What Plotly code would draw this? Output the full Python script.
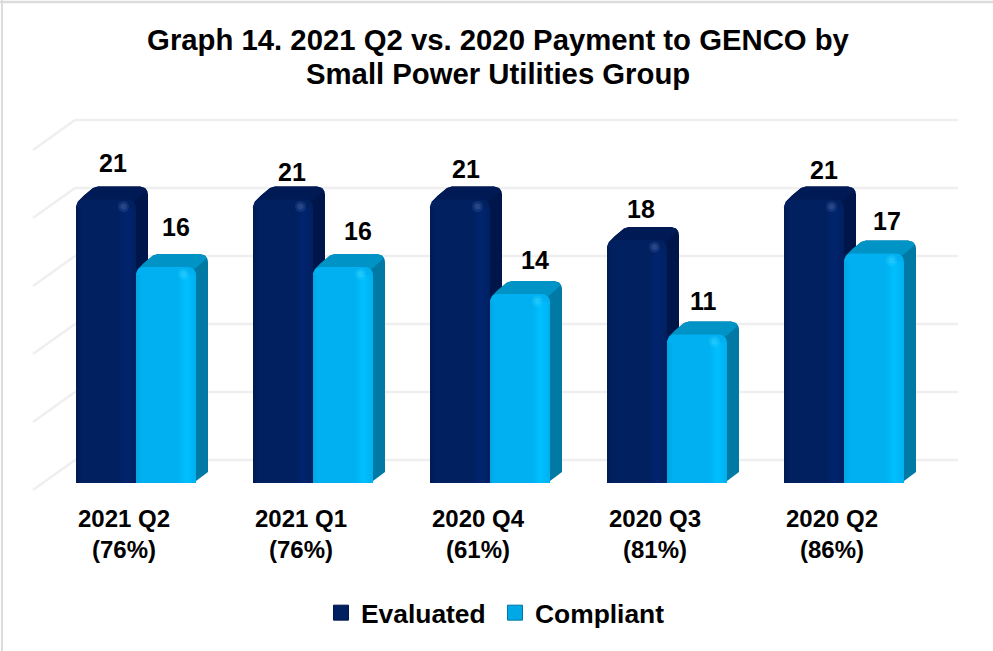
import plotly.graph_objects as go

W, H = 993, 651

# ---- data ----
categories = ["2021 Q2<br>(76%)", "2021 Q1<br>(76%)", "2020 Q4<br>(61%)", "2020 Q3<br>(81%)", "2020 Q2<br>(86%)"]
evaluated = [21, 21, 21, 18, 21]
compliant = [16, 16, 14, 11, 17]
grid_values = [0, 5, 10, 15, 20, 25]
title_line_1 = "Graph 14. 2021 Q2 vs. 2020 Payment to GENCO by"
title_line_2 = "Small Power Utilities Group"

# ---- geometry in pixels (styles, not data) ----
PX_PER_UNIT_FRONT = 13.5
PX_PER_UNIT_WALL = 13.6
BASE_FRONT_Y = 483
BASE_WALL_Y = 460
STEP = 177
FIRST_CENTER = 136
BAR_W = 60
PLOT_L, PLOT_R = 40, 960
PLOT_TOP = 100
EVAL_LABEL_DX = [1, 3, 0, -2, 4]
EVAL_LABEL_DY = [37, 28, 31, 31, 30]
COMP_LABEL_DX = [4, 9, 9, 0, 7]
COMP_LABEL_DY = [40, 36, 34, 34, 33]

# outline of the extruded faces, as pixel offsets from a bar's front top-left corner
TOP_FACE = [(0, -8), (2, -2), (8, 4), (17, 11.5), (22, 13), (64, 13), (69, 11.5), (71, 9), (60, -1), (50, -5), (5, -5)]
SIDE_UPPER = [(72, 5), (71.5, 8), (69, 11.5), (64, 13), (22, 13), (17, 11.5), (8, 4), (2, -2), (0, -8)]


def xu(px):
    return px / STEP


def yu(px):
    return px / PX_PER_UNIT_FRONT


positions = list(range(len(categories)))
x_range = [xu(PLOT_L - FIRST_CENTER), xu(PLOT_R - FIRST_CENTER)]
y_range = [0, yu(BASE_FRONT_Y - PLOT_TOP)]
x_domain = [PLOT_L / W, PLOT_R / W]
y_domain = [1 - BASE_FRONT_Y / H, 1 - PLOT_TOP / H]

fig = go.Figure()
hidden = dict(showlegend=False, hoverinfo="skip")


def extrusion(values, left_px, back_axes, front_axes, side, top, shades, glow, name):
    bx, by = back_axes
    fx, fy = front_axes
    for p, v in zip(positions, values):
        l = p + xu(left_px)
        xs = [l + xu(a) for a, _ in SIDE_UPPER]
        ys = [v + yu(b) for _, b in SIDE_UPPER]
        xs += [l, l + xu(54), l + xu(60), l + xu(72)]
        ys += [0, 0, yu(2), yu(11)]
        fig.add_trace(go.Scatter(x=xs, y=ys, mode="lines", line=dict(width=0), fill="toself",
                                 fillcolor=side, xaxis=bx, yaxis=by, **hidden))
        fig.add_trace(go.Scatter(x=[l + xu(a) for a, _ in TOP_FACE], y=[v + yu(b) for _, b in TOP_FACE],
                                 mode="lines", line=dict(width=0), fill="toself",
                                 fillcolor=top, xaxis=bx, yaxis=by, **hidden))
    fig.add_trace(go.Bar(
        x=positions, y=values, width=xu(BAR_W), offset=xu(left_px), name=name,
        marker=dict(color=shades[1], line=dict(width=0), cornerradius=8),
        xaxis=fx, yaxis=fy, **hidden,
    ))
    for p, v in zip(positions, values):
        l = p + xu(left_px)
        r = l + xu(BAR_W)
        fig.add_trace(go.Scatter(
            x=[l, r, r, l, l], y=[0, 0, v - yu(8), v - yu(8), 0], mode="lines",
            line=dict(width=0), fill="toself",
            fillgradient=dict(type="horizontal", colorscale=[
                [0, shades[0]], [0.1, shades[1]], [0.7, shades[1]], [0.84, shades[2]], [1, shades[1]]]),
            xaxis=fx, yaxis=fy, **hidden,
        ))
    for size, alpha in [(11, 0.3), (6, 0.5)]:
        fig.add_trace(go.Scatter(
            x=[p + xu(left_px + BAR_W - 12.5) for p in positions], y=[v - yu(7) for v in values], mode="markers",
            marker=dict(size=size, color=glow, opacity=alpha, line=dict(width=0)),
            xaxis=fx, yaxis=fy, **hidden,
        ))


extrusion(evaluated, -BAR_W, ("x", "y"), ("x2", "y2"), "#00164A", "#001A55",
          ("#001A52", "#002060", "#00246E"), "#3A5A9C", "Evaluated")
extrusion(compliant, 0, ("x3", "y3"), ("x4", "y4"), "#0079A5", "#0093C6",
          ("#00A6E3", "#00B0F0", "#00C0FF"), "#2CD0FF", "Compliant")

# legend swatches
for nm, col, edge in [("Evaluated", "#002060", "#00164A"), ("Compliant", "#00A8E6", "#0079A5")]:
    fig.add_trace(go.Scatter(
        x=[None], y=[None], mode="markers", name=nm, xaxis="x", yaxis="y",
        marker=dict(symbol="square", size=15, color=col, line=dict(color=edge, width=1)),
    ))

# value labels
label_font = dict(family="Liberation Sans", size=25, weight="bold", color="#000000")
for vals, dxs, dys, off in [(evaluated, EVAL_LABEL_DX, EVAL_LABEL_DY, -BAR_W / 2 + 6),
                            (compliant, COMP_LABEL_DX, COMP_LABEL_DY, BAR_W / 2 + 6)]:
    for p, v, dx, dy in zip(positions, vals, dxs, dys):
        fig.add_annotation(
            x=p + xu(off), y=v, xref="x4", yref="y4", text=str(v), showarrow=False,
            xshift=dx, yshift=dy, yanchor="middle", font=label_font,
        )

title_font = dict(family="Liberation Sans", size=29.3, weight="bold", color="#000000")
fig.add_annotation(x=498 / W, y=1 - 73.5 / H, xref="paper", yref="paper", text=title_line_2,
                   showarrow=False, xanchor="center", yanchor="middle", font=title_font)

# back wall gridlines; left wall diagonals follow them
shapes = []
for v in grid_values:
    py = BASE_WALL_Y - v * PX_PER_UNIT_WALL
    shapes.append(dict(type="line", xref="paper", yref="paper", x0=33 / W, x1=75 / W,
                       y0=1 - (py + 30) / H, y1=1 - py / H, layer="below",
                       line=dict(color="#EFEFEF", width=2.5)))
    shapes.append(dict(type="line", xref="paper", yref="paper", x0=75 / W, x1=958 / W,
                       y0=1 - py / H, y1=1 - py / H, layer="below",
                       line=dict(color="#EFEFEF", width=2.5)))
# frame: only the top and left edges show
shapes.append(dict(type="line", xref="paper", yref="paper", x0=0, x1=1, y0=1 - 2 / H, y1=1 - 2 / H,
                   layer="below", line=dict(color="#DCDCDC", width=2.5)))
shapes.append(dict(type="line", xref="paper", yref="paper", x0=2 / W, x1=2 / W, y0=0, y1=1,
                   layer="below", line=dict(color="#DCDCDC", width=2)))

axis_common = dict(showgrid=False, zeroline=False, showline=False, ticks="", fixedrange=True)
overlay_x = dict(overlaying="x", domain=x_domain, range=x_range, showticklabels=False, **axis_common)
overlay_y = dict(overlaying="y", domain=y_domain, range=y_range, showticklabels=False, **axis_common)
fig.update_layout(
    width=W, height=H, autosize=False,
    margin=dict(l=0, r=0, t=0, b=0),
    paper_bgcolor="#FFFFFF", plot_bgcolor="rgba(0,0,0,0)",
    font=dict(family="Liberation Sans", color="#000000"),
    barmode="overlay",
    shapes=shapes,
    showlegend=True,
    title=dict(
        text=title_line_1,
        x=498 / W, xanchor="center", y=1 - 40 / H, yanchor="middle",
        font=title_font,
    ),
    legend=dict(
        orientation="h", x=495 / W, xanchor="center", y=1 - 613 / H, yanchor="middle",
        font=dict(family="Liberation Sans", size=26.4, weight="bold", color="#000000"),
        entrywidth=129, entrywidthmode="pixels",
        bgcolor="rgba(0,0,0,0)", itemclick=False, itemdoubleclick=False,
    ),
    xaxis=dict(domain=x_domain, range=x_range, tickvals=[p - xu(12) for p in positions], ticktext=categories,
               tickfont=dict(family="Liberation Sans", size=24, weight="bold", color="#000000"),
               ticklabelstandoff=19, **axis_common),
    yaxis=dict(domain=y_domain, range=y_range, showticklabels=False, **axis_common),
    xaxis2=overlay_x, yaxis2=overlay_y,
    xaxis3=overlay_x, yaxis3=overlay_y,
    xaxis4=overlay_x, yaxis4=overlay_y,
)

fig.write_html("out.html", config={"displayModeBar": False},
               post_script="document.body.style.margin='0';document.body.style.overflow='hidden';")
